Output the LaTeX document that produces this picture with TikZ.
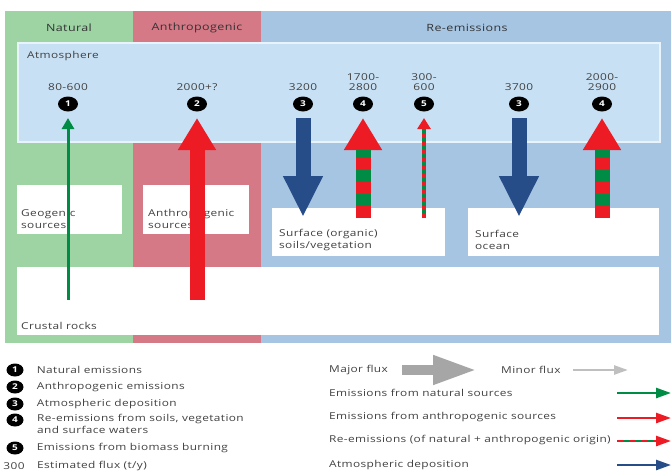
\documentclass[tikz,border=0pt]{standalone}
\usepackage{fontspec}
\setmainfont[FakeStretch=1.25,LetterSpace=4]{Open Sans}
\usepackage{tikz}
\usetikzlibrary{positioning,shapes,arrows.meta}
\definecolor{natpanel}{RGB}{158,211,164}
\definecolor{anthpanel}{RGB}{213,121,134}
\definecolor{repanel}{RGB}{166,197,227}
\definecolor{atmos}{RGB}{200,224,244}
\definecolor{natgreen}{RGB}{0,140,69}
\definecolor{anthred}{RGB}{237,28,36}
\definecolor{depblue}{RGB}{38,77,135}
\definecolor{labelgray}{RGB}{65,65,65}
\tikzset{
    header/.style={text=black!80, font=\fontsize{10}{11}\selectfont},
    boxtext/.style={anchor=west, align=left, inner sep=1pt},
    flux/.style={align=center, inner sep=1pt, font=\fontsize{9.5}{10}\selectfont},
    numdot/.style={ellipse, fill=black, text=white, inner sep=0pt, minimum width=20pt, minimum height=15pt, font=\fontsize{8}{8}\selectfont\bfseries},
    keydot/.style={numdot, minimum width=17pt, minimum height=13pt},
    legtext/.style={anchor=west, align=left, inner sep=1pt},
    natflux/.style={natgreen, line width=3pt, -{Triangle[width=12pt,length=11pt]}},
    anthflux/.style={anthred, line width=15pt, -{Triangle[width=36pt,length=32pt]}},
    depflux/.style={depblue, line width=15pt, -{Triangle[width=37pt,length=41pt]}},
    mixflux/.style={anthred, line width=15pt, -{Triangle[width=36pt,length=32pt]}},
    mixstripe/.style={natgreen, line width=15pt, dash pattern=on 12pt off 12pt, dash phase=12pt, shorten >=32pt},
    thinmix/.style={anthred, line width=4pt, -{Triangle[width=13pt,length=11pt]}},
    thinstripe/.style={natgreen, line width=4pt, dash pattern=on 4pt off 4pt, dash phase=4pt, shorten >=11pt},
    keyarrow/.style={line width=2.5pt, -{Triangle[width=10pt,length=15pt]}}
}

\begin{document}
\begin{tikzpicture}[x=1pt, y=-1pt, every node/.style={text=labelgray, font=\fontsize{9.5}{12}\selectfont}]
    \useasboundingbox (0,0) rectangle (671,471);

    % panels and reservoirs
    \fill[natpanel] (5,11) rectangle (133,343);
    \fill[anthpanel] (133,11) rectangle (261,343);
    \fill[repanel] (261,11) rectangle (671,343);
    \filldraw[fill=atmos, draw=white!60!atmos, line width=1.5pt] (18,43) rectangle (660,142);
    \fill[white] (17,185) rectangle (122,234);
    \fill[white] (143,185) rectangle (249,234);
    \fill[white] (272,208) rectangle (445,256);
    \fill[white] (468,208) rectangle (659,256);
    \fill[white] (17,267) rectangle (659,335);

    \node[header] (natural) at (69,28) {Natural};
    \node[header] (anthro) at (197,28) {Anthropogenic};
    \node[header] (reem) at (467,28) {Re-emissions};
    \node[boxtext] (atmo) at (26,56) {Atmosphere};

    \node[boxtext] (geogenic) at (20,219) {Geogenic\\sources};
    \node[boxtext] (anthsrc) at (147,219) {Anthropogenic\\sources};
    \node[boxtext] (soils) at (278,240) {Surface (organic)\\soils/vegetation};
    \node[boxtext] (ocean) at (474,240) {Surface\\ocean};
    \node[boxtext] (crust) at (20,326) {Crustal rocks};

    % fluxes
    \node[flux] (f1) at (68,87) {80-600};
    \node[flux] (f2) at (197,87) {2000+?};
    \node[flux] (f3a) at (303,87) {3200};
    \node[flux] (f4a) at (363,82) {1700-\\2800};
    \node[flux] (f5) at (424,82) {300-\\600};
    \node[flux] (f3b) at (519,87) {3700};
    \node[flux] (f4b) at (602,82) {2000-\\2900};

    \node[numdot] (n1) at (68,104) {1};
    \node[numdot] (n2) at (197,104) {2};
    \node[numdot] (n3a) at (303,104) {3};
    \node[numdot] (n4a) at (363,104) {4};
    \node[numdot] (n5) at (424,104) {5};
    \node[numdot] (n3b) at (519,104) {3};
    \node[numdot] (n4b) at (602,104) {4};

    \coordinate (g1s) at (68,300);  \coordinate (g1e) at (68,118);
    \coordinate (r2s) at (197,300); \coordinate (r2e) at (197,118);
    \coordinate (d3as) at (303,118); \coordinate (d3ae) at (303,217);
    \coordinate (d3bs) at (519,118); \coordinate (d3be) at (519,217);
    \coordinate (m4as) at (363,218); \coordinate (m4ae) at (363,118);
    \coordinate (m5s) at (424,218);  \coordinate (m5e) at (424,118);
    \coordinate (m4bs) at (602,218); \coordinate (m4be) at (602,118);

    \draw[natflux] (g1s) -- (g1e);
    \draw[anthflux] (r2s) -- (r2e);
    \draw[depflux] (d3as) -- (d3ae);
    \draw[depflux] (d3bs) -- (d3be);
    \draw[mixflux] (m4as) -- (m4ae);
    \draw[mixstripe] (m4as) -- (m4ae);
    \draw[mixflux] (m4bs) -- (m4be);
    \draw[mixstripe] (m4bs) -- (m4be);
    \draw[thinmix] (m5s) -- (m5e);
    \draw[thinstripe] (m5s) -- (m5e);

    % legend, left
    \node[keydot] (k1) at (15,370) {1};
    \node[legtext, right=12pt of k1] (k1t) {Natural emissions};
    \node[keydot] (k2) at (15,387) {2};
    \node[legtext, right=12pt of k2] (k2t) {Anthropogenic emissions};
    \node[keydot] (k3) at (15,404) {3};
    \node[legtext, right=12pt of k3] (k3t) {Atmospheric deposition};
    \node[keydot] (k4) at (15,420) {4};
    \node[legtext, anchor=north west] (k4t) at (36,413) {Re-emissions from soils, vegetation\\and surface waters};
    \node[keydot] (k5) at (15,448) {5};
    \node[legtext, right=12pt of k5] (k5t) {Emissions from biomass burning};
    \node[inner sep=1pt] (k300) at (14,466) {300};
    \node[legtext] (k300t) at (36,466) {Estimated flux (t/y)};

    % legend, right
    \node[legtext] (lmaj) at (328,370) {Major flux};
    \node[legtext] (lmin) at (500,370) {Minor flux};
    \node[legtext] (lnat) at (328,393) {Emissions from natural sources};
    \node[legtext] (lanth) at (328,417) {Emissions from anthropogenic sources};
    \node[legtext] (lmix) at (328,440) {Re-emissions (of natural + anthropogenic origin)};
    \node[legtext] (ldep) at (328,465) {Atmospheric deposition};

    \coordinate (maj1) at (402,370); \coordinate (maj2) at (477,370);
    \coordinate (min1) at (573,370); \coordinate (min2) at (628,370);
    \coordinate (nat1) at (617,393); \coordinate (nat2) at (671,393);
    \coordinate (ant1) at (617,418); \coordinate (ant2) at (671,418);
    \coordinate (mix1) at (617,441); \coordinate (mix2) at (671,441);
    \coordinate (dep1) at (617,465); \coordinate (dep2) at (671,465);

    \draw[black!35, line width=10pt, -{Triangle[width=27pt,length=44pt]}] (maj1) -- (maj2);
    \draw[black!25, line width=2.5pt, -{Triangle[width=9pt,length=14pt]}] (min1) -- (min2);
    \draw[keyarrow, natgreen] (nat1) -- (nat2);
    \draw[keyarrow, anthred] (ant1) -- (ant2);
    \draw[keyarrow, anthred] (mix1) -- (mix2);
    \draw[natgreen, line width=2.5pt, dash pattern=on 6pt off 6pt, dash phase=6pt, shorten >=15pt] (mix1) -- (mix2);
    \draw[keyarrow, depblue] (dep1) -- (dep2);
\end{tikzpicture}
\end{document}
